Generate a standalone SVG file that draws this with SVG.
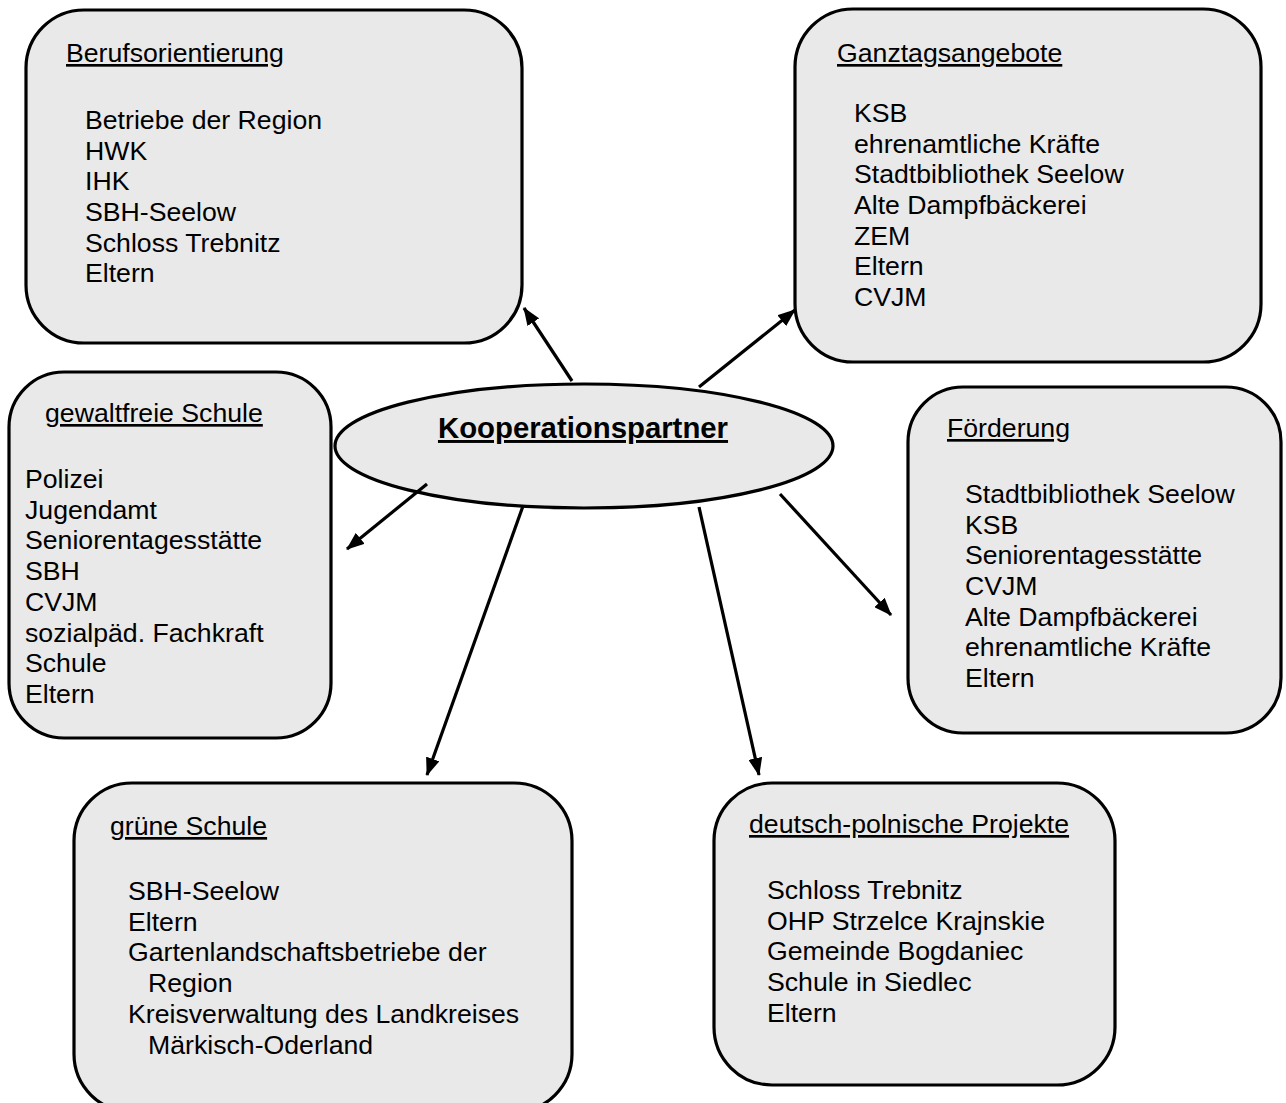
<svg xmlns="http://www.w3.org/2000/svg" width="1286" height="1103" viewBox="0 0 1286 1103">
  <style>
    .box { fill: #e9e9e9; stroke: #000; stroke-width: 3.2; }
    .t { font-family: "Liberation Sans", Arial, sans-serif; font-size: 26.67px; fill: #000; }
    .h { text-decoration: underline; }
    .main { font-family: "Liberation Sans", Arial, sans-serif; font-size: 29.33px; font-weight: bold; text-decoration: underline; fill: #000; }
    .conn { stroke: #000; stroke-width: 3.2; fill: none; marker-end: url(#arrow); }
  </style>
  <defs>
    <marker id="arrow" markerUnits="userSpaceOnUse" markerWidth="18" markerHeight="14" refX="17" refY="7" orient="auto">
      <path d="M0,0 L18,7 L0,14 z" fill="#000"/>
    </marker>
  </defs>
  <rect width="1286" height="1103" fill="#fff"/>

  <g id="node-center">
    <ellipse class="box" cx="584" cy="446" rx="249" ry="62"/>
    <text class="main" x="583" y="438" text-anchor="middle">Kooperationspartner</text>
  </g>

  <g id="node-berufsorientierung">
    <rect class="box" x="26" y="10" width="496" height="333" rx="58" ry="58"/>
    <text class="t h" x="66" y="62">Berufsorientierung</text>
    <text class="t" x="85" y="129">Betriebe der Region</text>
    <text class="t" x="85" y="160">HWK</text>
    <text class="t" x="85" y="190">IHK</text>
    <text class="t" x="85" y="221">SBH-Seelow</text>
    <text class="t" x="85" y="252">Schloss Trebnitz</text>
    <text class="t" x="85" y="282">Eltern</text>
  </g>

  <g id="node-ganztagsangebote">
    <rect class="box" x="795" y="9" width="466" height="353" rx="58" ry="58"/>
    <text class="t h" x="837" y="62">Ganztagsangebote</text>
    <text class="t" x="854" y="122">KSB</text>
    <text class="t" x="854" y="153">ehrenamtliche Kräfte</text>
    <text class="t" x="854" y="183">Stadtbibliothek Seelow</text>
    <text class="t" x="854" y="214">Alte Dampfbäckerei</text>
    <text class="t" x="854" y="245">ZEM</text>
    <text class="t" x="854" y="275">Eltern</text>
    <text class="t" x="854" y="306">CVJM</text>
  </g>

  <g id="node-gewaltfreie-schule">
    <rect class="box" x="9" y="372" width="322" height="366" rx="55" ry="55"/>
    <text class="t h" x="45" y="422">gewaltfreie Schule</text>
    <text class="t" x="25" y="488">Polizei</text>
    <text class="t" x="25" y="519">Jugendamt</text>
    <text class="t" x="25" y="549">Seniorentagesstätte</text>
    <text class="t" x="25" y="580">SBH</text>
    <text class="t" x="25" y="611">CVJM</text>
    <text class="t" x="25" y="642">sozialpäd. Fachkraft</text>
    <text class="t" x="25" y="672">Schule</text>
    <text class="t" x="25" y="703">Eltern</text>
  </g>

  <g id="node-foerderung">
    <rect class="box" x="908" y="387" width="373" height="346" rx="55" ry="55"/>
    <text class="t h" x="947" y="437">Förderung</text>
    <text class="t" x="965" y="503">Stadtbibliothek Seelow</text>
    <text class="t" x="965" y="534">KSB</text>
    <text class="t" x="965" y="564">Seniorentagesstätte</text>
    <text class="t" x="965" y="595">CVJM</text>
    <text class="t" x="965" y="626">Alte Dampfbäckerei</text>
    <text class="t" x="965" y="656">ehrenamtliche Kräfte</text>
    <text class="t" x="965" y="687">Eltern</text>
  </g>

  <g id="node-gruene-schule">
    <rect class="box" x="74" y="783" width="498" height="329" rx="58" ry="58"/>
    <text class="t h" x="110" y="835">grüne Schule</text>
    <text class="t" x="128" y="900">SBH-Seelow</text>
    <text class="t" x="128" y="931">Eltern</text>
    <text class="t" x="128" y="961">Gartenlandschaftsbetriebe der</text>
    <text class="t" x="148" y="992">Region</text>
    <text class="t" x="128" y="1023">Kreisverwaltung des Landkreises</text>
    <text class="t" x="148" y="1054">Märkisch-Oderland</text>
  </g>

  <g id="node-deutsch-polnische-projekte">
    <rect class="box" x="714" y="783" width="401" height="302" rx="58" ry="58"/>
    <text class="t h" x="749" y="833">deutsch-polnische Projekte</text>
    <text class="t" x="767" y="899">Schloss Trebnitz</text>
    <text class="t" x="767" y="930">OHP Strzelce Krajnskie</text>
    <text class="t" x="767" y="960">Gemeinde Bogdaniec</text>
    <text class="t" x="767" y="991">Schule in Siedlec</text>
    <text class="t" x="767" y="1022">Eltern</text>
  </g>

  <g id="connectors">
    <line class="conn" x1="572" y1="381" x2="524" y2="308"/>
    <line class="conn" x1="699" y1="387" x2="795" y2="310"/>
    <line class="conn" x1="427" y1="484" x2="347" y2="549"/>
    <line class="conn" x1="523" y1="506" x2="427" y2="775"/>
    <line class="conn" x1="699" y1="507" x2="759" y2="775"/>
    <line class="conn" x1="780" y1="494" x2="891" y2="615"/>
  </g>
</svg>
